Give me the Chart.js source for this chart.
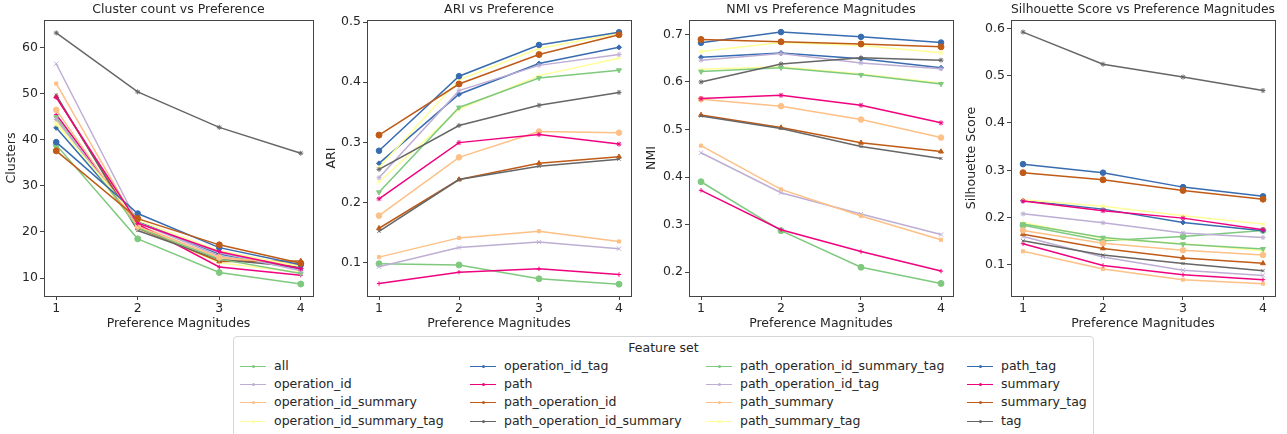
<!DOCTYPE html>
<html>
<head>
<meta charset="utf-8">
<script src="https://cdn.jsdelivr.net/npm/chart.js@4/dist/chart.umd.min.js"></script>
<style>
body { margin:0; background:#fff; width:1287px; height:434px; position:relative; overflow:hidden; font-family:'DejaVu Sans'; color:#262626; }
canvas { position:absolute; top:0; }
#legend { position:absolute; left:233px; top:336px; width:861px; height:110px; border:1px solid #d6d6d6; border-radius:4px; box-sizing:border-box; }
#legend .ttl { position:absolute; left:0; width:100%; top:3px; text-align:center; font-size:12.5px; }
#legend .item { position:absolute; font-size:12.5px; line-height:16px; white-space:nowrap; }
#legend .sw { position:absolute; top:8px; width:26px; height:0; border-top:1.5px solid; }
#legend .dot { position:absolute; left:11.5px; top:-2.5px; width:3px; height:3px; border-radius:1.5px; }
</style>
</head>
<body>
<canvas id="c0" width="358" height="334" style="left:0px"></canvas>
<canvas id="c1" width="316" height="334" style="left:320px"></canvas>
<canvas id="c2" width="318" height="334" style="left:640px"></canvas>
<canvas id="c3" width="320" height="334" style="left:960px"></canvas>
<div id="legend"><div class="ttl">Feature set</div></div>
<script>
const magnitudes = [1, 2, 3, 4];

const featureSets = [
    'all', 'operation_id', 'operation_id_summary', 'operation_id_summary_tag',
    'operation_id_tag', 'path', 'path_operation_id', 'path_operation_id_summary',
    'path_operation_id_summary_tag', 'path_operation_id_tag', 'path_summary', 'path_summary_tag',
    'path_tag', 'summary', 'summary_tag', 'tag'
];

// Accent palette, cycled twice
const colors = ['#7fc97f', '#beaed4', '#fdc086', '#ffff99', '#386cb0', '#f0027f', '#bf5b17', '#666666',
                '#7fc97f', '#beaed4', '#fdc086', '#ffff99', '#386cb0', '#f0027f', '#bf5b17', '#666666'];
const markers = ['circle', 'crossRot', 'rect', 'cross', 'rectRot', 'cross', 'triangle', 'crossRot',
                 'triangle', 'star', 'circle', 'star', 'circle', 'star', 'circle', 'star'];
const markerRotation = [0, 0, 0, 0, 0, 0, 0, 0, 180, 0, 0, 0, 0, 0, 0, 0];
const markerSize = [3, 3, 2.2, 2.5, 2.5, 2.2, 2.8, 2.2, 2.8, 2.5, 2.8, 2.5, 2.8, 2.5, 3, 2.5];

// one row per feature set, columns = preference magnitudes 1..4
const clusterCounts = [
    [38.9, 18.5, 11.2, 8.7],
    [56.5, 22.0, 14.8, 12.0],
    [52.2, 21.5, 14.3, 12.8],
    [43.9, 21.0, 13.3, 11.2],
    [42.6, 22.3, 15.2, 12.0],
    [45.5, 21.7, 12.4, 10.6],
    [49.4, 20.8, 13.6, 13.7],
    [49.7, 20.3, 14.0, 12.4],
    [44.9, 20.9, 14.1, 11.0],
    [44.4, 22.0, 15.5, 11.6],
    [46.5, 21.2, 14.5, 13.0],
    [43.4, 22.5, 15.9, 12.5],
    [39.5, 24.0, 16.6, 12.9],
    [49.2, 21.9, 15.7, 12.0],
    [37.6, 22.9, 17.2, 13.2],
    [63.2, 50.4, 42.7, 37.1]
];

const ariScores = [
    [0.098, 0.096, 0.073, 0.064],
    [0.093, 0.125, 0.134, 0.123],
    [0.109, 0.141, 0.152, 0.135],
    [0.234, 0.355, 0.411, 0.440],
    [0.265, 0.380, 0.431, 0.458],
    [0.065, 0.084, 0.0895, 0.080],
    [0.157, 0.238, 0.265, 0.276],
    [0.152, 0.238, 0.260, 0.272],
    [0.217, 0.358, 0.407, 0.420],
    [0.241, 0.386, 0.428, 0.446],
    [0.178, 0.275, 0.318, 0.316],
    [0.258, 0.404, 0.456, 0.481],
    [0.286, 0.410, 0.462, 0.483],
    [0.206, 0.2995, 0.313, 0.297],
    [0.312, 0.397, 0.446, 0.479],
    [0.255, 0.328, 0.3615, 0.383]
];

const nmiScores = [
    [0.390, 0.287, 0.210, 0.176],
    [0.451, 0.367, 0.322, 0.279],
    [0.466, 0.374, 0.318, 0.268],
    [0.627, 0.632, 0.617, 0.598],
    [0.652, 0.661, 0.649, 0.630],
    [0.372, 0.289, 0.243, 0.202],
    [0.5305, 0.504, 0.472, 0.4535],
    [0.5285, 0.502, 0.464, 0.439],
    [0.622, 0.630, 0.615, 0.596],
    [0.646, 0.660, 0.640, 0.628],
    [0.5635, 0.549, 0.521, 0.483],
    [0.664, 0.683, 0.677, 0.6615],
    [0.6825, 0.705, 0.695, 0.683],
    [0.565, 0.572, 0.551, 0.514],
    [0.6895, 0.6846, 0.680, 0.674],
    [0.600, 0.638, 0.651, 0.646]
];

const silhouetteScores = [
    [0.184, 0.151, 0.160, 0.173],
    [0.160, 0.117, 0.089, 0.078],
    [0.129, 0.0915, 0.069, 0.0606],
    [0.190, 0.156, 0.145, 0.130],
    [0.236, 0.218, 0.190, 0.1725],
    [0.145, 0.099, 0.0795, 0.069],
    [0.165, 0.135, 0.115, 0.1035],
    [0.151, 0.121, 0.103, 0.088],
    [0.1865, 0.158, 0.144, 0.134],
    [0.208, 0.189, 0.1675, 0.158],
    [0.173, 0.146, 0.131, 0.121],
    [0.238, 0.224, 0.204, 0.1865],
    [0.313, 0.295, 0.2645, 0.245],
    [0.235, 0.2146, 0.199, 0.1745],
    [0.295, 0.280, 0.2575, 0.239],
    [0.592, 0.524, 0.497, 0.4685]
];

const clusterTicks = [10, 20, 30, 40, 50, 60];
const ariTicks = [0.1, 0.2, 0.3, 0.4, 0.5];
const nmiTicks = [0.2, 0.3, 0.4, 0.5, 0.6, 0.7];
const silhouetteTicks = [0.1, 0.2, 0.3, 0.4, 0.5, 0.6];

Chart.defaults.font.family = 'DejaVu Sans';
Chart.defaults.font.size = 12.5;
Chart.defaults.color = '#262626';

const frame = {
    id: 'frame',
    afterDatasetsDraw(chart) {
        const a = chart.chartArea, ctx = chart.ctx;
        ctx.save();
        ctx.strokeStyle = '#444';
        ctx.lineWidth = 1;
        ctx.strokeRect(Math.round(a.left) + 0.5, Math.round(a.top) + 0.5,
                       Math.round(a.right - a.left), Math.round(a.bottom - a.top));
        ctx.restore();
    }
};

function draw_panel(id, title, yTitle, values, yTicks, yMin, yMax, yWidth, padRight, decimals) {
    const datasets = featureSets.map(function (name, i) {
        return {
            label: name,
            data: magnitudes.map(function (m, j) { return {x: m, y: values[i][j]}; }),
            borderColor: colors[i],
            backgroundColor: colors[i],
            borderWidth: 1.5,
            pointStyle: markers[i],
            pointRadius: markerSize[i],
            pointRotation: markerRotation[i],
            pointBorderColor: colors[i],
            pointBorderWidth: 1,
            tension: 0,
            order: featureSets.length - i
        };
    });
    const tickGrid = { display: true, drawOnChartArea: false, drawTicks: true, tickLength: 4, color: '#444' };
    const config = {
        type: 'line',
        data: { datasets: datasets },
        options: {
            responsive: false,
            animation: false,
            devicePixelRatio: 1,
            layout: { padding: { left: 0, right: padRight, top: 0, bottom: 0 } },
            plugins: {
                legend: { display: false },
                tooltip: { enabled: false },
                title: { display: true, text: title, fullSize: false, color: '#262626',
                         font: { size: 12.5, weight: 'normal' }, padding: { top: 2.5, bottom: 2.5 } }
            },
            scales: {
                x: {
                    type: 'linear', min: 0.85, max: 4.15,
                    afterBuildTicks: function (s) { s.ticks = magnitudes.map(function (v) { return {value: v}; }); },
                    afterFit: function (s) { s.height = 38; },
                    grid: tickGrid,
                    border: { display: false },
                    ticks: { padding: 1, callback: function (v) { return v; } },
                    title: { display: true, text: 'Preference Magnitudes', padding: { top: 0, bottom: 3 } }
                },
                y: {
                    type: 'linear', min: yMin, max: yMax,
                    afterBuildTicks: function (s) { s.ticks = yTicks.map(function (v) { return {value: v}; }); },
                    afterFit: function (s) { s.width = yWidth; },
                    grid: tickGrid,
                    border: { display: false },
                    ticks: { padding: 2, callback: function (v) { return v.toFixed(decimals); } },
                    title: { display: true, text: yTitle, padding: { top: 4, bottom: 4 } }
                }
            }
        },
        plugins: [frame]
    };
    return new Chart(document.getElementById(id), config);
}

function draw_legend() {
    const box = document.getElementById('legend');
    const textX = [40, 270, 506, 767];
    const rowY = [21, 39, 57, 76];
    featureSets.forEach(function (name, i) {
        const col = Math.floor(i / 4), row = i % 4;
        const item = document.createElement('div');
        item.className = 'item';
        item.style.left = (textX[col] - 34) + 'px';
        item.style.top = rowY[row] + 'px';
        item.innerHTML = '<span class="sw" style="left:0;border-color:' + colors[i] + '">' +
            '<span class="dot" style="background:' + colors[i] + '"></span></span>' +
            '<span style="margin-left:34px">' + name + '</span>';
        box.appendChild(item);
    });
}

function draw_graphs() {
    draw_panel('c0', 'Cluster count vs Preference', 'Clusters', clusterCounts, clusterTicks, 6.1, 66.0, 44, 45, 0);
    draw_panel('c1', 'ARI vs Preference', 'ARI', ariScores, ariTicks, 0.0443, 0.5035, 47, 1, 1);
    draw_panel('c2', 'NMI vs Preference Magnitudes', 'NMI', nmiScores, nmiTicks, 0.1495, 0.7305, 49, 1, 1);
    draw_panel('c3', 'Silhouette Score vs Preference Magnitudes', 'Silhouette Score', silhouetteScores, silhouetteTicks, 0.0345, 0.6175, 51, 1, 1);
    draw_legend();
}
draw_graphs();
</script>
</body>
</html>
